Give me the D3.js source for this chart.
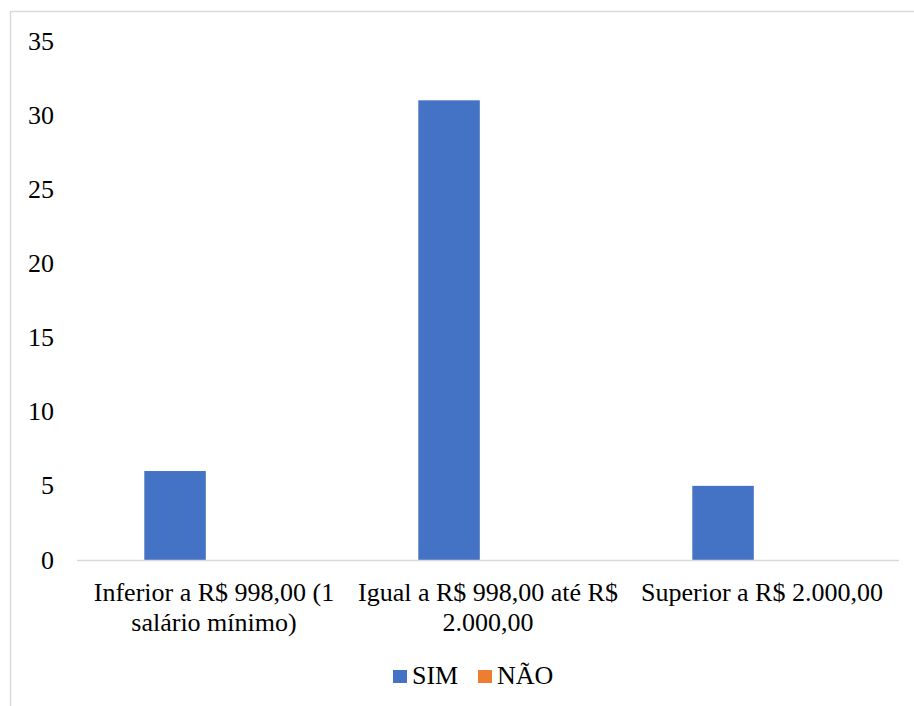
<!DOCTYPE html>
<html>
<head>
<meta charset="utf-8">
<script src="https://cdn.jsdelivr.net/npm/d3@7/dist/d3.min.js"></script>
<style>
  html, body { margin: 0; padding: 0; background: #fff; }
  svg text { font-family: "Liberation Serif", "DejaVu Serif", "Times New Roman", serif; fill: #000; }
</style>
</head>
<body>
<svg id="chart" width="914" height="706"></svg>
<script>
// Chart data
var categories = [
    ["Inferior a R$ 998,00 (1", "salário mínimo)"],
    ["Igual a R$ 998,00 até R$", "2.000,00"],
    ["Superior a R$ 2.000,00"]
];
var series = ["SIM", "NÃO"];
var simValues = [6, 31, 5];
var naoValues = [0, 0, 0];
var yTicks = [0, 5, 10, 15, 20, 25, 30, 35];
var seriesColors = ["#4472C4", "#ED7D31"];

var FONT = '"Liberation Serif", "DejaVu Serif", "Times New Roman", serif';
var FONT_SIZE = "26px";
var PLOT_LEFT = 77;
var PLOT_RIGHT = 899;
var PLOT_TOP = 41;
var PLOT_BOTTOM = 560;

var svg = d3.select("#chart");

// Chart area border (cut off at right and bottom like the source)
svg.append("rect")
    .attr("x", 10.5)
    .attr("y", 11.5)
    .attr("width", 960)
    .attr("height", 760)
    .attr("fill", "none")
    .attr("stroke", "#d9d9d9")
    .attr("stroke-width", 1.5);

var catIdx = categories.map((c, i) => i);

var x0 = d3.scaleBand()
    .domain(catIdx)
    .range([PLOT_LEFT, PLOT_RIGHT]);

var x1 = d3.scaleBand()
    .domain(series)
    .range([67.3, 67.3 + 123]);

var yScale = d3.scaleLinear()
    .domain([0, 35])
    .range([PLOT_BOTTOM, PLOT_TOP]);

// Y tick labels
svg.selectAll(".y-label")
    .data(yTicks)
    .enter()
    .append("text")
    .attr("class", "y-label")
    .attr("text-anchor", "end")
    .attr("x", 54)
    .attr("y", d => yScale(d) + 8.5)
    .attr("font-family", FONT)
    .style("font-size", FONT_SIZE)
    .text(d => d);

// Bars
var seriesData = [simValues, naoValues];
series.forEach(function (s, si) {
    svg.selectAll(".bar-" + si)
        .data(seriesData[si])
        .enter()
        .append("rect")
        .attr("class", "bar-" + si)
        .attr("x", (d, i) => x0(i) + x1(s))
        .attr("y", d => yScale(d))
        .attr("width", x1.bandwidth())
        .attr("height", d => yScale(0) - yScale(d))
        .attr("fill", seriesColors[si]);
});

// Baseline
svg.append("line")
    .attr("x1", PLOT_LEFT)
    .attr("x2", PLOT_RIGHT)
    .attr("y1", yScale(0) + 0.5)
    .attr("y2", yScale(0) + 0.5)
    .attr("stroke", "#d9d9d9")
    .attr("stroke-width", 1.5);

// Category labels
categories.forEach(function (lines, i) {
    var cx = x0(i) + x0.bandwidth() / 2;
    var t = svg.append("text")
        .attr("text-anchor", "middle")
        .attr("x", cx)
        .attr("y", 601)
        .attr("font-family", FONT)
        .style("font-size", FONT_SIZE);
    lines.forEach(function (ln, li) {
        t.append("tspan")
            .attr("x", cx)
            .attr("dy", li === 0 ? 0 : 29.5)
            .text(ln);
    });
});

// Legend
var legendX = [393, 478];
series.forEach(function (s, si) {
    svg.append("rect")
        .attr("x", legendX[si])
        .attr("y", 670)
        .attr("width", 14)
        .attr("height", 13)
        .attr("fill", seriesColors[si]);
    svg.append("text")
        .attr("x", legendX[si] + 19)
        .attr("y", 684)
        .attr("font-family", FONT)
        .style("font-size", FONT_SIZE)
        .text(s);
});
</script>
</body>
</html>
